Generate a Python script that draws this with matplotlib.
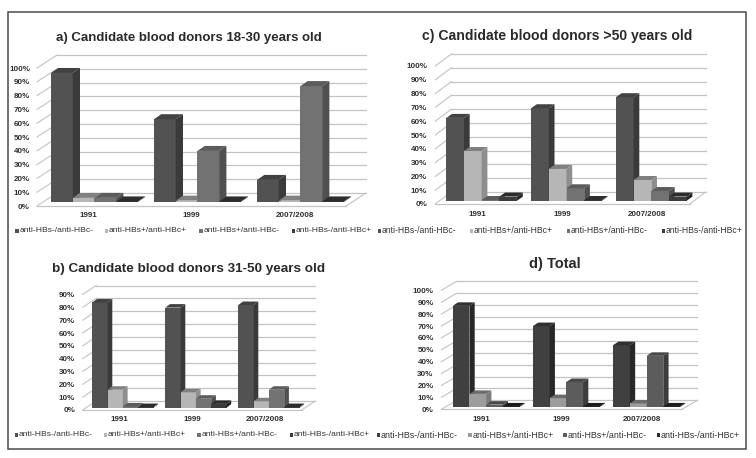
import matplotlib
matplotlib.use('Agg')
import numpy as np
import matplotlib.pyplot as plt
from matplotlib.patches import Rectangle, Polygon

plt.rcParams['font.family'] = ['Liberation Sans', 'DejaVu Sans']

W, H = 756, 458

years = ['1991', '1999', '2007/2008']
series = ['anti-HBs-/anti-HBc-', 'anti-HBs+/anti-HBc+', 'anti-HBs+/anti-HBc-', 'anti-HBs-/anti-HBc+']

# percent per year, one list per series
a_neg = [93.5, 60, 16]
a_both = [3, 1, 1]
a_hbs = [3, 37, 84]
a_hbc = [0.4, 0.4, 0.4]

b_neg = [82, 78, 80]
b_both = [14, 12, 5]
b_hbs = [1, 7, 14]
b_hbc = [0.5, 3, 0.5]

c_neg = [60, 67, 75]
c_both = [36, 23, 15]
c_hbs = [0.5, 9, 7]
c_hbc = [3, 0.5, 3]

d_neg = [85, 68, 52]
d_both = [11, 7.5, 3]
d_hbs = [2, 21, 43]
d_hbc = [0.5, 0.5, 0.5]

grey = [['#525252', '#424242', '#3a3a3a'],
        ['#b6b6b6', '#808080', '#8e8e8e'],
        ['#727272', '#5c5c5c', '#505050'],
        ['#3c3c3c', '#2c2c2c', '#282828']]
dark = [['#404040', '#303030', '#282828'],
        ['#9c9c9c', '#6c6c6c', '#7a7a7a'],
        ['#5c5c5c', '#484848', '#3c3c3c'],
        ['#2a2a2a', '#1c1c1c', '#181818']]

fig = plt.figure(figsize=(W/100, H/100), dpi=100)
fig.patches.append(Rectangle((8/W, 1-448.5/H), 738/W, 436.5/H, transform=fig.transFigure,
                             fill=False, ec='#4a4a4a', lw=1.1))


def panel(box, ymax, vals, bar_x, bar_w, base, depth, wall, colors, title, title_xy, title_size, tick_r, cat_y):
    x0, x1, y0, ytop = box
    ax = fig.add_axes([x0/W, 1-y0/H, (x1-x0)/W, (y0-ytop)/H])
    ax.set_xlim(0, 3)
    ax.set_ylim(0, ymax)
    ax.patch.set_alpha(0)
    for s in ax.spines.values():
        s.set_visible(False)
    ux = 3/(x1-x0)
    uy = ymax/(y0-ytop)
    wx, wy = wall[0]*ux, wall[1]*uy

    # back wall, side wall and floor
    ticks = np.arange(0, ymax+1, 10)
    for t in ticks:
        ax.plot([wx, 3+wx], [t+wy, t+wy], color='#c4c4c4', lw=0.9, clip_on=False, zorder=1)
        ax.plot([0, wx], [t, t+wy], color='#c4c4c4', lw=0.8, clip_on=False, zorder=1)
    ax.plot([0, 3], [0, 0], color='#c4c4c4', lw=0.9, clip_on=False, zorder=1)
    ax.plot([3, 3+wx], [0, wy], color='#c4c4c4', lw=0.8, clip_on=False, zorder=1)

    # bars, left to right so each front covers the previous side
    w = bar_w*ux
    dx, dy = depth[0]*ux, depth[1]*uy
    for g in range(3):
        for s in range(4):
            v = vals[s][g]
            left = g + (bar_x + s*bar_w)*ux
            bot = base*uy
            z = 3 + g*10 + s
            front, top, side = colors[s]
            ax.bar(left, v, w, bottom=bot, align='edge', color=front, lw=0, zorder=z, clip_on=False)
            ax.add_patch(Polygon([(left, bot+v), (left+w, bot+v), (left+w+dx, bot+v+dy), (left+dx, bot+v+dy)],
                                 color=top, lw=0, zorder=z, clip_on=False))
            ax.add_patch(Polygon([(left+w, bot), (left+w+dx, bot+dy), (left+w+dx, bot+v+dy), (left+w, bot+v)],
                                 color=side, lw=0, zorder=z, clip_on=False))

    ax.set_yticks(ticks)
    ax.set_yticklabels([f'{t}%' for t in ticks], fontsize=5.8, color='#303030', fontweight='bold')
    ax.set_xticks([0.5, 1.5, 2.5])
    ax.set_xticklabels(years, fontsize=5.8, color='#303030', fontweight='bold')
    ax.tick_params(axis='y', length=0, pad=(x0-tick_r)*0.72)
    ax.tick_params(axis='x', length=0, pad=(cat_y-y0-4)*0.72)
    fig.text(title_xy[0]/W, 1-title_xy[1]/H, title, fontsize=title_size, fontweight='bold', color='#2a2a2a',
             ha='center', va='center')


def legend(xs, y, colors, size):
    for name, x, col in zip(series, xs, colors):
        fig.patches.append(Rectangle(((x-4.5)/W, 1-(y+2)/H), 3.6/W, 3.6/H, transform=fig.transFigure,
                                     color=col[0], lw=0))
        fig.text(x/W, 1-y/H, name, fontsize=size, color='#333333', ha='left', va='center')


panel((37, 346, 206, 68), 100, [a_neg, a_both, a_hbs, a_hbc], 14, 21.7, 4, (7.3, 5), (20, 13), grey,
      'a) Candidate blood donors 18-30 years old', (189, 38), 9.55, 30, 216)
panel((82.7, 301.7, 410, 294.5), 90, [b_neg, b_both, b_hbs, b_hbc], 9.6, 15.3, 2.3, (4.7, 3.5), (13.5, 9), grey,
      'b) Candidate blood donors 31-50 years old', (189, 269), 9.7, 75, 420)
panel((435.3, 689.7, 204, 66), 100, [c_neg, c_both, c_hbs, c_hbc], 11, 17.7, 3.3, (5.7, 4), (16, 12), grey,
      'c) Candidate blood donors >50 years old', (557, 36), 10.1, 427, 215)
panel((441.3, 682, 409.3, 290.3), 100, [d_neg, d_both, d_hbs, d_hbc], 11.4, 16.7, 2.3, (5.3, 3.5), (15.3, 9), dark,
      'd) Total', (555, 264), 10.5, 433.7, 420)

legend([19.5, 109, 203.5, 296], 231, grey, 6.1)
legend([382, 474, 571, 666], 230.5, grey, 6.2)
legend([19, 108, 202, 294], 435, grey, 6.1)
legend([381, 472.7, 567.7, 661], 435, dark, 6.4)

fig.savefig('out.png', dpi=100)
